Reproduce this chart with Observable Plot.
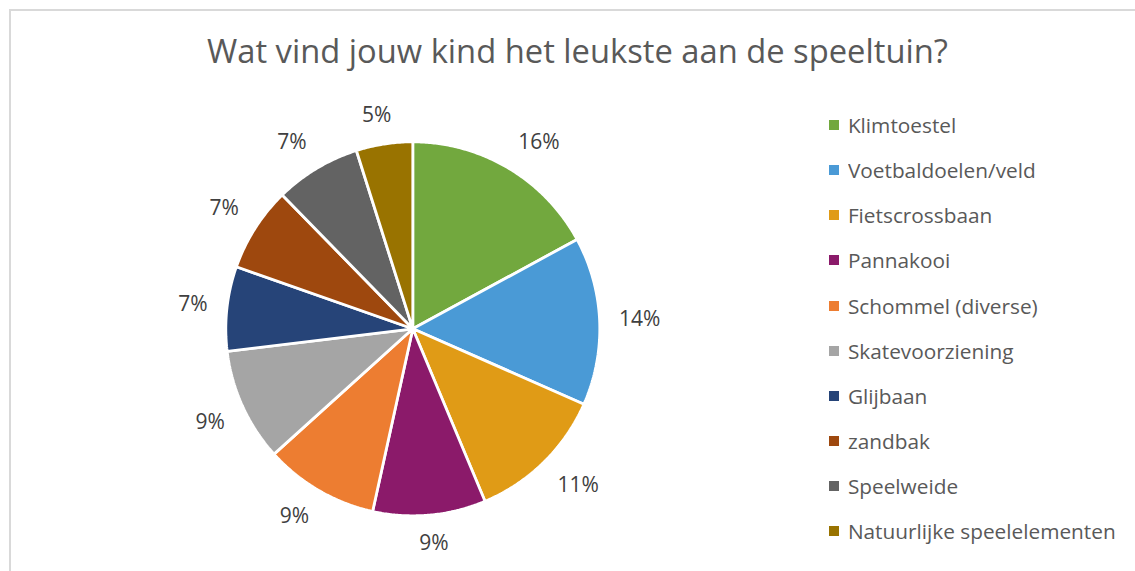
<!DOCTYPE html>
<html><head><meta charset="utf-8">
<script src="https://cdn.jsdelivr.net/npm/d3@7"></script>
<script src="https://cdn.jsdelivr.net/npm/@observablehq/plot@0.6"></script>
<style>
body{margin:0;background:#fff;}
#wrap{position:relative;width:1135px;height:571px;overflow:hidden;font-family:"Open Sans",sans-serif;background:#fff;}
#frame{position:absolute;left:9px;top:9px;width:1300px;height:700px;border-left:2px solid #d9d9d9;border-top:2px solid #d9d9d9;}
#title{position:absolute;left:10px;width:1135px;text-align:center;color:#595959;white-space:nowrap;line-height:1;font-family:"Open Sans",sans-serif;}
#chart{position:absolute;left:0;top:0;}
#legend{position:absolute;left:829.3px;top:102.6px;}
.lg-swatches{font-family:"Open Sans",sans-serif;margin:0;}
.lg-swatches-columns .lg-swatch{height:45.1px;padding:0;color:#595959;display:flex;align-items:center;}
.lg-swatch > svg{margin-right:8.6px;}
</style></head><body>
<div id="wrap"><div id="frame"></div><div id="title">Wat vind jouw kind het leukste aan de speeltuin?</div><div id="chart"></div><div id="legend"></div></div>
<script>
const categories = ["Klimtoestel", "Voetbaldoelen/veld", "Fietscrossbaan", "Pannakooi", "Schommel (diverse)", "Skatevoorziening", "Glijbaan", "zandbak", "Speelweide", "Natuurlijke speelelementen"];
const values = [16.1, 13.7, 11.4, 9.2, 9.3, 9.2, 6.9, 6.9, 7.0, 4.6];
const colors = ["#72A83E", "#4A9AD6", "#E09B16", "#8B1A6A", "#ED7D31", "#A5A5A5", "#264478", "#9E480E", "#636363", "#997300"];

// layout (pixels)
const cx = 412.3, cy = 328.3, r = 187;
const labelFont = 21, labelGap = 19.5;

function fitSize(text, family, target) {
  const c = document.createElement("canvas").getContext("2d");
  c.font = `100px ${family}`;
  return 100 * target / c.measureText(text).width;
}

// title
const titleEl = document.getElementById("title");
const tSize = fitSize(titleEl.textContent, "'Open Sans'", 741);
titleEl.style.fontSize = tSize + "px";
titleEl.style.top = (64.3 - 0.888 * tSize) + "px";

// pie geometry from data
const total = d3.sum(values);
const slices = [];
let acc = 0;
categories.forEach((cat, i) => {
  const a0 = acc / total * 2 * Math.PI;
  acc += values[i];
  const a1 = acc / total * 2 * Math.PI;
  slices.push({cat, value: values[i], a0, a1});
});
const slicePts = [];
for (const s of slices) {
  slicePts.push({cat: s.cat, x: 0, y: 0});
  const n = Math.max(4, Math.ceil((s.a1 - s.a0) / (Math.PI / 360)));
  for (let k = 0; k <= n; k++) {
    const a = s.a0 + (s.a1 - s.a0) * k / n;
    slicePts.push({cat: s.cat, x: Math.sin(a), y: Math.cos(a)});
  }
}
const clamp = v => Math.max(-1, Math.min(1, v));
const labelData = slices.map(s => {
  const label = Math.round(s.value) + "%";
  const m = (s.a0 + s.a1) / 2;
  const ux = Math.sin(m), uy = -Math.cos(m); // screen coords
  const w = (label.length - 1) * 0.572 * labelFont + 0.824 * labelFont;
  const h = 18;
  const px = (r + labelGap) * ux + clamp(2 * ux) * w / 2;
  const py = (r + labelGap) * uy + clamp(2 * uy) * h / 2;
  return {label, x: px / r, y: -py / r};
});

const chart = Plot.plot({
  width: 820, height: 571, margin: 0,
  x: {domain: [-1, 1], range: [cx - r, cx + r], axis: null},
  y: {domain: [-1, 1], range: [cy + r, cy - r], axis: null},
  color: {type: "ordinal", domain: categories, range: colors},
  style: {background: "transparent", overflow: "visible"},
  marks: [
    Plot.line(slicePts, {x: "x", y: "y", z: "cat", fill: "cat", stroke: "white", strokeWidth: 2.8, curve: "linear-closed", strokeLinejoin: "miter"}),
    Plot.text(labelData, {x: "x", y: "y", text: "label", fontSize: labelFont, fill: "#404040", fontFamily: "Open Sans", lineAnchor: "middle", textAnchor: "middle"})
  ]
});
document.getElementById("chart").appendChild(chart);

const lSize = fitSize("Natuurlijke speelelementen", "'Open Sans'", 268);
const legend = chart.legend("color", {legend: "swatches", columns: 1, swatchSize: 10, className: "lg"});
legend.style.fontSize = lSize + "px";
document.getElementById("legend").appendChild(legend);
</script>
</body></html>
